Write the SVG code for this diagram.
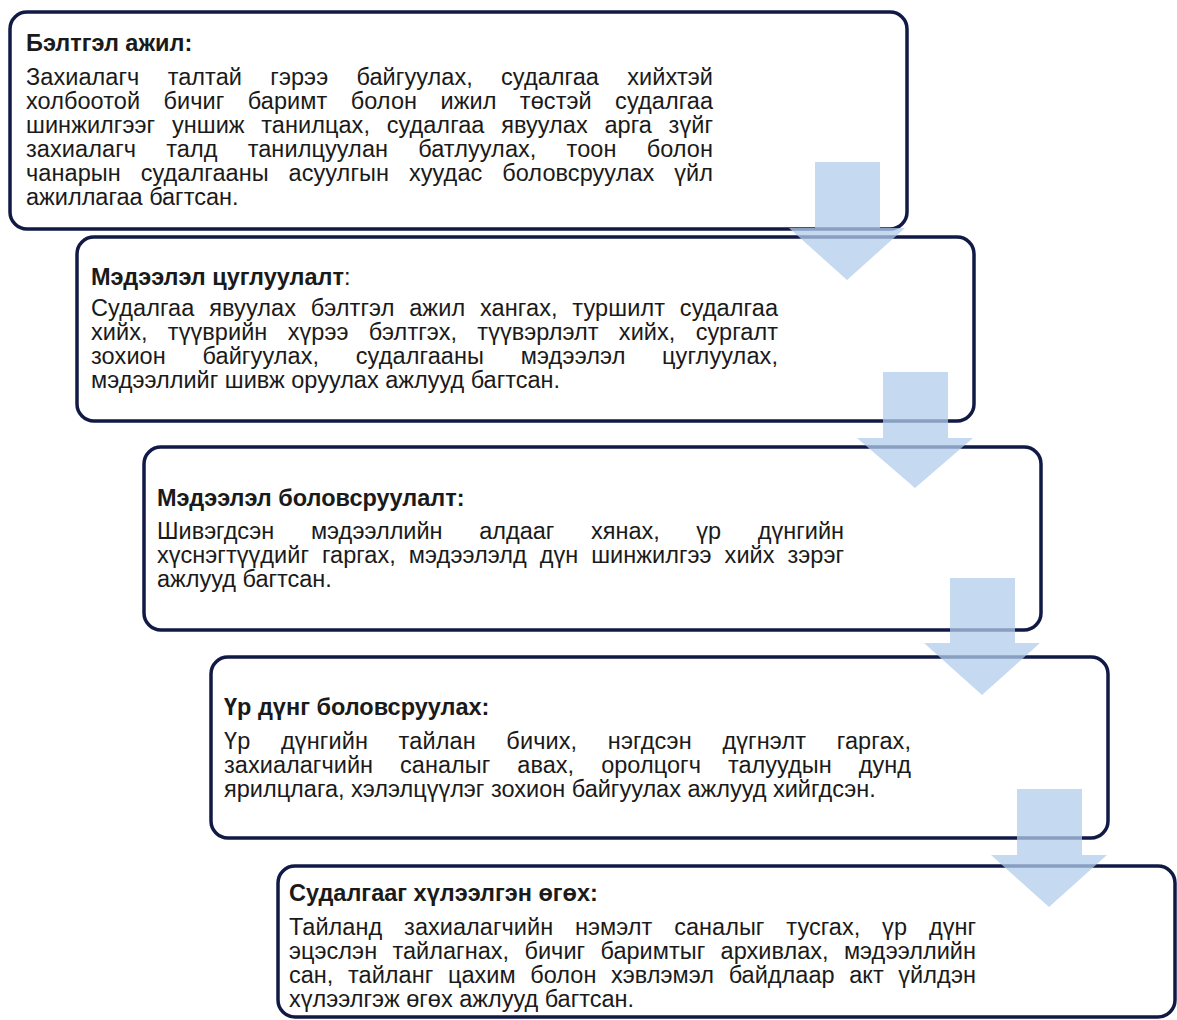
<svg xmlns="http://www.w3.org/2000/svg" width="1177" height="1020" viewBox="0 0 1177 1020">
<style>
.box{fill:#ffffff;stroke:#111a45;stroke-width:3.5}
.t{font-family:"Liberation Sans",Arial,sans-serif;font-size:23.5px;fill:#1a1a1a}
.b{font-weight:bold}
.arrow{fill:#b2ccec;fill-opacity:0.75}
</style>
<rect width="1177" height="1020" fill="#ffffff"/>
<g id="node1">
<rect class="box" x="10" y="12" width="897" height="217" rx="17"/>
<text class="t b" x="26" y="51">Бэлтгэл ажил:</text>
<text class="t" x="26" y="85" textLength="687" lengthAdjust="spacing" style="word-spacing:21.7px">Захиалагч талтай гэрээ байгуулах, судалгаа хийхтэй</text>
<text class="t" x="26" y="109" textLength="687" lengthAdjust="spacing" style="word-spacing:16.8px">холбоотой бичиг баримт болон ижил төстэй судалгаа</text>
<text class="t" x="26" y="133" textLength="687" lengthAdjust="spacing" style="word-spacing:10.1px">шинжилгээг уншиж танилцах, судалгаа явуулах арга зүйг</text>
<text class="t" x="26" y="157" textLength="687" lengthAdjust="spacing" style="word-spacing:23.5px">захиалагч талд танилцуулан батлуулах, тоон болон</text>
<text class="t" x="26" y="181" textLength="687" lengthAdjust="spacing" style="word-spacing:13.2px">чанарын судалгааны асуулгын хуудас боловсруулах үйл</text>
<text class="t" x="26" y="205">ажиллагаа багтсан.</text>
</g>
<g id="node2">
<rect class="box" x="77" y="237" width="897" height="184" rx="17"/>
<text class="t" x="91" y="285"><tspan class="b">Мэдээлэл цуглуулалт</tspan>:</text>
<text class="t" x="91" y="316" textLength="687" lengthAdjust="spacing" style="word-spacing:8.1px">Судалгаа явуулах бэлтгэл ажил хангах, туршилт судалгаа</text>
<text class="t" x="91" y="340" textLength="687" lengthAdjust="spacing" style="word-spacing:13.7px">хийх, түүврийн хүрээ бэлтгэх, түүвэрлэлт хийх, сургалт</text>
<text class="t" x="91" y="364" textLength="687" lengthAdjust="spacing" style="word-spacing:29.9px">зохион байгуулах, судалгааны мэдээлэл цуглуулах,</text>
<text class="t" x="91" y="388">мэдээллийг шивж оруулах ажлууд багтсан.</text>
</g>
<g id="node3">
<rect class="box" x="144" y="447" width="897" height="183" rx="17"/>
<text class="t b" x="157" y="506">Мэдээлэл боловсруулалт:</text>
<text class="t" x="157" y="539" textLength="687" lengthAdjust="spacing" style="word-spacing:30.1px">Шивэгдсэн мэдээллийн алдааг хянах, үр дүнгийн</text>
<text class="t" x="157" y="563" textLength="687" lengthAdjust="spacing" style="word-spacing:6.4px">хүснэгтүүдийг гаргах, мэдээлэлд дүн шинжилгээ хийх зэрэг</text>
<text class="t" x="157" y="587">ажлууд багтсан.</text>
</g>
<g id="node4">
<rect class="box" x="211" y="657" width="897" height="181" rx="17"/>
<text class="t b" x="224" y="715">Үр дүнг боловсруулах:</text>
<text class="t" x="224" y="749" textLength="687" lengthAdjust="spacing" style="word-spacing:24px">Үр дүнгийн тайлан бичих, нэгдсэн дүгнэлт гаргах,</text>
<text class="t" x="224" y="773" textLength="687" lengthAdjust="spacing" style="word-spacing:20.4px">захиалагчийн саналыг авах, оролцогч талуудын дунд</text>
<text class="t" x="224" y="797">ярилцлага, хэлэлцүүлэг зохион байгуулах ажлууд хийгдсэн.</text>
</g>
<g id="node5">
<rect class="box" x="278" y="866" width="897" height="151" rx="17"/>
<text class="t b" x="289" y="901">Судалгааг хүлээлгэн өгөх:</text>
<text class="t" x="289" y="935" textLength="687" lengthAdjust="spacing" style="word-spacing:15.3px">Тайланд захиалагчийн нэмэлт саналыг тусгах, үр дүнг</text>
<text class="t" x="289" y="959" textLength="687" lengthAdjust="spacing" style="word-spacing:8.7px">эцэслэн тайлагнах, бичиг баримтыг архивлах, мэдээллийн</text>
<text class="t" x="289" y="983" textLength="687" lengthAdjust="spacing" style="word-spacing:8.1px">сан, тайланг цахим болон хэвлэмэл байдлаар акт үйлдэн</text>
<text class="t" x="289" y="1007">хүлээлгэж өгөх ажлууд багтсан.</text>
</g>
<g id="connectors">
<polygon class="arrow" points="815,162 880,162 880,228 905,228 847,280 789,228 815,228"/>
<polygon class="arrow" points="883,372 948,372 948,438 973,438 915,488 857,438 883,438"/>
<polygon class="arrow" points="950,578 1015,578 1015,643 1040,643 982,695 924,643 950,643"/>
<polygon class="arrow" points="1017,789 1082,789 1082,855 1107,855 1049,907 991,855 1017,855"/>
</g>
</svg>
